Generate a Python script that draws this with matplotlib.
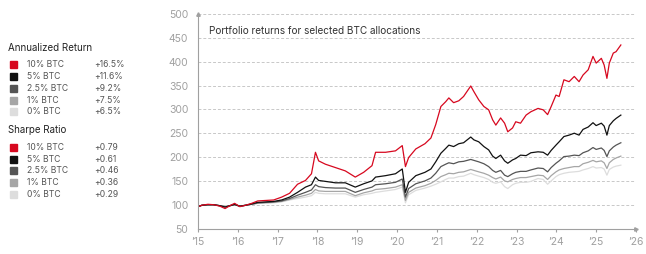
import matplotlib.pyplot as plt
import numpy as np

plt.rcParams['font.family'] = ['Inter', 'DejaVu Sans']

# Data (decimal years, portfolio value indexed to 100)
dates = [2015.00, 2015.10, 2015.25, 2015.40, 2015.55, 2015.68, 2015.80, 2015.92,
         2016.05, 2016.20, 2016.35, 2016.50, 2016.70, 2016.90, 2017.10, 2017.30,
         2017.50, 2017.70, 2017.85, 2017.95, 2018.03, 2018.20, 2018.45, 2018.70,
         2018.95, 2019.16, 2019.37, 2019.46, 2019.71, 2019.96, 2020.13, 2020.21,
         2020.29, 2020.47, 2020.70, 2020.85, 2020.97, 2021.10, 2021.22, 2021.30,
         2021.42, 2021.55, 2021.67, 2021.85, 2021.93, 2022.05, 2022.18, 2022.30,
         2022.40, 2022.48, 2022.60, 2022.70, 2022.78, 2022.90, 2022.98, 2023.10,
         2023.24, 2023.36, 2023.54, 2023.67, 2023.78, 2023.87, 2023.99, 2024.07,
         2024.19, 2024.32, 2024.45, 2024.57, 2024.67, 2024.80, 2024.92, 2025.00,
         2025.13, 2025.20, 2025.27, 2025.33, 2025.43, 2025.50, 2025.62]

btc_10 = [96, 99, 101, 100, 97, 92, 98, 103, 96, 99, 103, 108, 109, 110, 116, 124,
          143, 151, 165, 210, 192, 185, 178, 171, 158, 168, 182, 210, 210, 213, 224, 180,
          199, 217, 228, 240, 268, 306, 316, 324, 314, 318, 327, 349, 337, 320, 306, 299,
          278, 267, 282, 271, 253, 261, 274, 271, 288, 295, 302, 299, 289, 306, 330, 327,
          362, 358, 369, 358, 372, 383, 411, 397, 407, 393, 365, 397, 418, 421, 435]

btc_5 = [96, 99, 100, 100, 98, 95, 98, 101, 97, 99, 102, 105, 106, 107, 110, 116,
         126, 137, 142, 158, 151, 149, 146, 146, 137, 144, 150, 158, 161, 165, 175, 126,
         147, 161, 168, 175, 190, 208, 218, 225, 222, 228, 230, 242, 236, 232, 222, 215,
         202, 197, 204, 192, 187, 194, 197, 204, 203, 209, 211, 210, 204, 214, 225, 232,
         243, 246, 250, 246, 258, 263, 272, 266, 271, 265, 246, 266, 276, 281, 288]

btc_25 = [96, 99, 100, 100, 98, 96, 98, 100, 97, 99, 101, 104, 105, 106, 108, 113,
          120, 126, 131, 142, 138, 136, 135, 135, 126, 132, 137, 142, 144, 147, 154, 116,
          134, 144, 150, 156, 166, 180, 185, 188, 186, 190, 191, 195, 193, 190, 186, 180,
          172, 168, 172, 162, 159, 165, 168, 170, 170, 173, 177, 176, 169, 178, 187, 192,
          201, 202, 204, 203, 209, 213, 220, 216, 219, 214, 201, 213, 221, 225, 230]

btc_1 = [96, 99, 100, 100, 98, 96, 98, 100, 97, 99, 101, 103, 104, 105, 107, 111,
         116, 120, 124, 132, 129, 128, 128, 128, 119, 125, 129, 132, 134, 137, 142, 109,
         126, 135, 140, 145, 151, 159, 163, 166, 165, 168, 169, 174, 172, 169, 166, 162,
         157, 154, 158, 150, 148, 153, 155, 157, 157, 159, 162, 161, 153, 161, 169, 173,
         176, 178, 180, 180, 186, 189, 193, 190, 192, 188, 176, 188, 195, 198, 202]

btc_0 = [96, 99, 100, 100, 98, 96, 98, 100, 97, 99, 101, 103, 104, 104, 106, 110,
         113, 116, 119, 126, 124, 123, 123, 123, 116, 121, 124, 126, 129, 132, 137, 104,
         121, 130, 135, 139, 143, 148, 153, 156, 156, 159, 160, 166, 163, 160, 157, 153,
         147, 145, 148, 138, 134, 142, 145, 147, 147, 149, 155, 153, 143, 150, 159, 163,
         166, 168, 169, 170, 173, 176, 180, 177, 178, 175, 162, 174, 179, 181, 183]

labels = ['10% BTC', '5% BTC', '2.5% BTC', '1% BTC', '0% BTC']
colors = ['#d7081f', '#111111', '#555555', '#a6a6a6', '#dddddd']
annual_return = ['+16.5%', '+11.6%', '+9.2%', '+7.5%', '+6.5%']
sharpe_ratio = ['+0.79', '+0.61', '+0.46', '+0.36', '+0.29']

year_ticks = list(range(2015, 2027))
year_labels = ['\u2019' + str(y)[2:] for y in year_ticks]

fig = plt.figure(figsize=(6.46, 2.54), dpi=100, facecolor='white')
ax = fig.add_axes([0.3065, 0.10, 0.678, 0.845])

series = [btc_10, btc_5, btc_25, btc_1, btc_0]
for vals, col in reversed(list(zip(series, colors))):
    ax.plot(dates, vals, color=col, linewidth=0.9)

ax.set_xlim(2015, 2026)
ax.set_ylim(50, 500)
ax.set_yticks(range(50, 501, 50))
ax.set_xticks(year_ticks)
ax.set_xticklabels(year_labels)

for v in range(100, 501, 50):
    ax.axhline(v, color='#c8c8c8', linestyle=(0, (3, 2)), linewidth=0.7, zorder=0)

for s in ['top', 'right']:
    ax.spines[s].set_visible(False)
for s in ['left', 'bottom']:
    ax.spines[s].set_color('#a0a0a0')
    ax.spines[s].set_linewidth(0.8)

ax.tick_params(axis='y', length=0, labelsize=7.5, labelcolor='#a0a0a0', pad=7)
ax.tick_params(axis='x', length=2.5, color='#a0a0a0', labelsize=7.5,
               labelcolor='#a0a0a0', pad=3.5)

# small arrow heads on the axes
ax.plot([0], [1], marker='^', markersize=2.5, color='#a0a0a0',
        transform=ax.transAxes, clip_on=False)
ax.plot([1], [0], marker='>', markersize=2.5, color='#a0a0a0',
        transform=ax.transAxes, clip_on=False)

ax.text(0.025, 0.945, 'Portfolio returns for selected BTC allocations',
        transform=ax.transAxes, fontsize=7.2, color='#333333', va='top')

# Legend panels on the left
def legend_block(title, y_title, y_rows, values):
    fig.text(8 / 646, 1 - y_title / 254, title, fontsize=7, color='#222222', va='center')
    for lab, col, val, yr in zip(labels, colors, values, y_rows):
        yf = 1 - yr / 254
        fig.patches.append(plt.Rectangle((9.5 / 646, yf - 3.5 / 254), 7 / 646, 7 / 254,
                                         transform=fig.transFigure, color=col))
        fig.text(27 / 646, yf, lab, fontsize=6.2, color='#555555', va='center')
        fig.text(94 / 646, yf, val, fontsize=6.2, color='#555555', va='center')

legend_block('Annualized Return', 48, [64.7, 76.7, 88.5, 100.3, 111.8], annual_return)
legend_block('Sharpe Ratio', 130, [147.3, 159, 170.8, 182.6, 194.3], sharpe_ratio)

fig.savefig('out.png', dpi=100, facecolor='white')
